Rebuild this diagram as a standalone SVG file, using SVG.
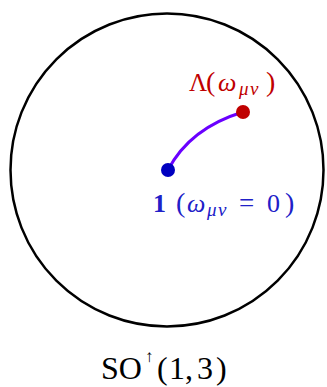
<svg xmlns="http://www.w3.org/2000/svg" width="327" height="387" viewBox="0 0 327 387">
<style>
text{font-family:"Liberation Serif","DejaVu Serif",serif;font-size:25px}
.it{font-style:italic;font-size:26px}
.sub{font-style:italic;font-size:19px;letter-spacing:1.5px}
.par{font-size:28px}
.red{fill:#c00000}
.blue{fill:#2020c8}
.big{font-size:32px}
.sup{font-size:17px}
</style>
<rect width="327" height="387" fill="#fff"/>
<g id="group-circle">
<circle cx="167" cy="170" r="156.5" fill="none" stroke="#000" stroke-width="2.5"/>
</g>
<g id="connectors">
<path d="M168,170 Q190,128 243,112" fill="none" stroke="#6a00ff" stroke-width="3"/>
</g>
<g id="node-identity">
<circle cx="168" cy="170" r="7" fill="#0000c0"/>
<text class="blue" y="212"><tspan x="153" font-weight="bold" font-size="26">1</tspan><tspan x="176" class="par">(</tspan><tspan x="187" class="it">ω</tspan><tspan x="207" y="216" class="sub">μν</tspan><tspan x="239" y="212" font-size="27">=</tspan><tspan x="267" font-size="26">0</tspan><tspan x="285" class="par">)</tspan></text>
</g>
<g id="node-lambda">
<circle cx="243" cy="112" r="7" fill="#c00000"/>
<text class="red" y="91"><tspan x="189">Λ</tspan><tspan x="206" class="par">(</tspan><tspan x="218" class="it">ω</tspan><tspan x="239" y="95" class="sub">μν</tspan><tspan x="266" y="91" class="par">)</tspan></text>
</g>
<g id="label-group">
<text y="379" class="big"><tspan x="101">SO</tspan><tspan x="145" y="362" class="sup">↑</tspan><tspan x="157" y="379">(</tspan><tspan x="169">1</tspan><tspan x="185">,</tspan><tspan x="197">3</tspan><tspan x="216">)</tspan></text>
</g>
</svg>
